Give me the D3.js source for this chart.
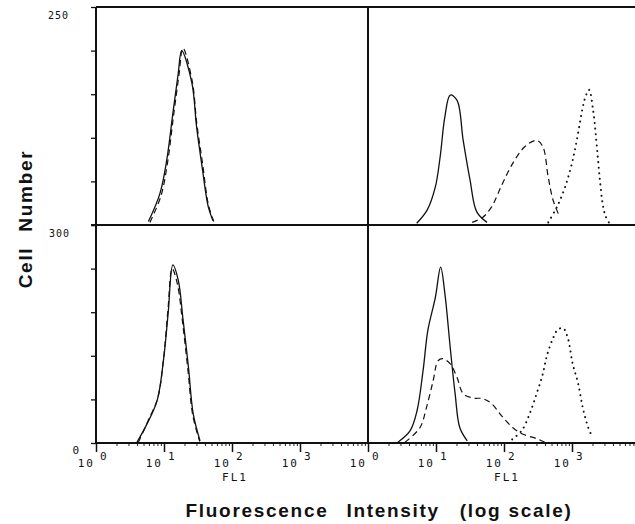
<!DOCTYPE html>
<html>
<head>
<meta charset="utf-8">
<script src="https://cdn.jsdelivr.net/npm/d3@7"></script>
<style>
  body { margin: 0; background: #fff; }
  svg { display: block; }
  .tick-label { font-family: "DejaVu Sans Mono", monospace; font-size: 11px; fill: #111; letter-spacing: 2px; }
  .title { font-family: "Liberation Sans", Arial, sans-serif; font-weight: bold; font-size: 19px; fill: #111; letter-spacing: 1.7px; }
</style>
</head>
<body>
<div id="chart-area"></div>
<script>
// FL1 intensity (linear units) and cell counts
var topLeftSolid   = [[5.9,4],[8.7,36],[11,75],[13.5,128],[16.2,174],[18.2,200],[25.7,163],[30.2,112],[36.3,67],[44.7,21],[52.5,5]];
var topLeftDashed  = [[6.2,3],[9,33],[11.3,72],[13.8,125],[16.6,172],[19,203],[26,165],[30.5,115],[37,70],[45,23],[54,4]];
var topRightSolid  = [[5.2,2],[7.4,17],[9.8,44],[11.5,78],[13.5,124],[16.2,149],[20.4,143],[25.1,97],[31.6,52],[39.8,15],[56.2,3]];
var topRightDashed = [[34,3],[49,9],[66,21],[93,46],[135,71],[204,90],[302,97],[372,90],[447,55],[525,29],[661,9]];
var topRightDotted = [[447,3],[603,21],[794,44],[1000,71],[1175,97],[1413,132],[1549,145],[1778,155],[2042,132],[2344,86],[2570,52],[2818,25],[3090,11],[3548,2]];
var botLeftSolid   = [[4,1],[5.6,26],[7.9,58],[9.8,113],[11.5,178],[13.5,245],[16.2,224],[19.1,169],[22.9,104],[26.9,40],[33.9,3]];
var botLeftDashed  = [[4.2,1],[5.8,30],[8.1,62],[9.9,118],[11.4,182],[13.2,240],[15.8,218],[18.8,165],[22.5,100],[26.5,38],[33.5,2]];
var botRightSolid  = [[2.75,1],[4.17,17],[5.25,44],[6.46,100],[7.59,155],[9.77,200],[11.7,242],[13.5,206],[16.2,131],[19.1,68],[22.4,21],[28.8,3]];
var botRightDashed = [[3.5,1],[5.8,21],[7.2,48],[9.1,86],[10.7,113],[12.6,116],[16.2,109],[20.4,90],[25.1,68],[34.7,62],[49,61],[66,54],[93,37],[135,21],[191,12],[302,6],[398,1]];
var botRightDotted = [[132,5],[182,17],[240,41],[302,68],[372,95],[427,120],[525,144],[617,156],[741,158],[871,144],[1023,109],[1230,82],[1445,48],[1738,21],[1950,10]];

var decades = [1, 10, 100, 1000];
var topTicks = [0, 50, 100, 150, 200, 250];
var botTicks = [0, 60, 120, 180, 240, 300];

var W = 635, H = 524;
var svg = d3.select("#chart-area").append("svg")
    .attr("width", W).attr("height", H);

// panel geometry
var colX = [96, 368], colW = 272;
var rowY = [7, 225], rowH = 218;

var xs = colX.map(function(x0){
    return d3.scaleLog().domain([1, 10000]).range([x0, x0 + colW]);
});
var yTop = d3.scaleLinear().domain([0, 250]).range([rowY[0] + rowH, rowY[0]]);
var yBot = d3.scaleLinear().domain([0, 300]).range([rowY[1] + rowH, rowY[1]]);

var panels = [
    { x: xs[0], y: yTop, series: [[topLeftSolid, "solid"], [topLeftDashed, "dashed"]] },
    { x: xs[1], y: yTop, series: [[topRightSolid, "solid"], [topRightDashed, "dashed"], [topRightDotted, "dotted"]] },
    { x: xs[0], y: yBot, series: [[botLeftSolid, "solid"], [botLeftDashed, "dashed"]] },
    { x: xs[1], y: yBot, series: [[botRightSolid, "solid"], [botRightDashed, "dashed"], [botRightDotted, "dotted"]] }
];

panels.forEach(function(p){
    var line = d3.line()
        .x(function(d){ return p.x(d[0]); })
        .y(function(d){ return p.y(d[1]); })
        .curve(d3.curveCatmullRom.alpha(0.5));
    p.series.forEach(function(s){
        var path = svg.append("path")
            .attr("d", line(s[0]))
            .attr("fill", "none")
            .attr("stroke", "#111");
        if (s[1] == "solid") path.attr("stroke-width", 1.3);
        if (s[1] == "dashed") path.attr("stroke-width", 1.2).attr("stroke-dasharray", "6,4");
        if (s[1] == "dotted") path.attr("stroke-width", 2).attr("stroke-dasharray", "0.1,5.5")
            .attr("stroke-linecap", "round");
    });
});

// X axes (bottom only), major and minor ticks
var minorVals = [];
decades.forEach(function(d){
    for (var k = 2; k <= 9; k++) minorVals.push(d * k);
});
xs.forEach(function(x){
    svg.append("g")
        .attr("transform", "translate(0," + yBot(0) + ")")
        .call(d3.axisBottom(x).tickValues(minorVals).tickSize(3).tickFormat(""))
        .call(function(g){ g.select(".domain").remove(); g.selectAll("line").attr("stroke", "#222"); });
    svg.append("g")
        .attr("transform", "translate(0," + yBot(0) + ")")
        .call(d3.axisBottom(x).tickValues(decades).tickSize(9).tickFormat(""))
        .call(function(g){ g.select(".domain").remove(); g.selectAll("line").attr("stroke", "#111").attr("stroke-width", 1.5); });

    decades.forEach(function(d, i){
        svg.append("text").attr("class", "tick-label")
            .attr("x", x(d) - 1).attr("y", yBot(0) + 24)
            .attr("text-anchor", "end").text("10");
        svg.append("text").attr("class", "tick-label")
            .attr("x", x(d) + 4).attr("y", yBot(0) + 17)
            .text(i);
    });
    svg.append("text").attr("class", "tick-label")
        .attr("x", x(100) + 3).attr("y", yBot(0) + 38)
        .attr("text-anchor", "middle").text("FL1");
});

// Y axes on the left panels
[[yTop, topTicks], [yBot, botTicks]].forEach(function(a){
    svg.append("g")
        .attr("transform", "translate(" + colX[0] + ",0)")
        .call(d3.axisLeft(a[0]).tickValues(a[1]).tickSize(5).tickFormat(""))
        .call(function(g){ g.select(".domain").remove(); g.selectAll("line").attr("stroke", "#111").attr("stroke-width", 1.3); });
});
svg.append("text").attr("class", "tick-label").attr("x", 69).attr("y", yTop(250) + 12)
    .attr("text-anchor", "end").style("font-size", "10px").style("letter-spacing", "1px").text("250");
svg.append("text").attr("class", "tick-label").attr("x", 70).attr("y", yBot(300) + 12)
    .attr("text-anchor", "end").style("font-size", "10px").style("letter-spacing", "1px").text("300");
svg.append("text").attr("class", "tick-label").attr("x", 81).attr("y", yBot(0) + 11)
    .attr("text-anchor", "end").text("0");

// Frame lines
var frame = [
    [colX[0], rowY[0], W, rowY[0]],
    [colX[0] - 5, rowY[1], W, rowY[1]],
    [colX[0], rowY[1] + rowH, W, rowY[1] + rowH],
    [colX[0], rowY[0], colX[0], rowY[1] + rowH],
    [colX[1], rowY[0], colX[1], rowY[1] + rowH]
];
svg.selectAll(".frame").data(frame).enter().append("line")
    .attr("class", "frame")
    .attr("x1", function(d){ return d[0]; }).attr("y1", function(d){ return d[1]; })
    .attr("x2", function(d){ return d[2]; }).attr("y2", function(d){ return d[3]; })
    .attr("stroke", "#111").attr("stroke-width", 2);

// Titles
var yTitle = svg.append("text").attr("class", "title")
    .attr("transform", "translate(32,219) rotate(-90)")
    .attr("text-anchor", "middle");
yTitle.append("tspan").text("Cell");
yTitle.append("tspan").attr("dx", 8).text(" Number");

var xTitle = svg.append("text").attr("class", "title")
    .attr("x", 379).attr("y", 517)
    .attr("text-anchor", "middle");
xTitle.append("tspan").text("Fluorescence");
xTitle.append("tspan").attr("dx", 11).text(" Intensity");
xTitle.append("tspan").attr("dx", 13).text(" (log scale)");
</script>
</body>
</html>
